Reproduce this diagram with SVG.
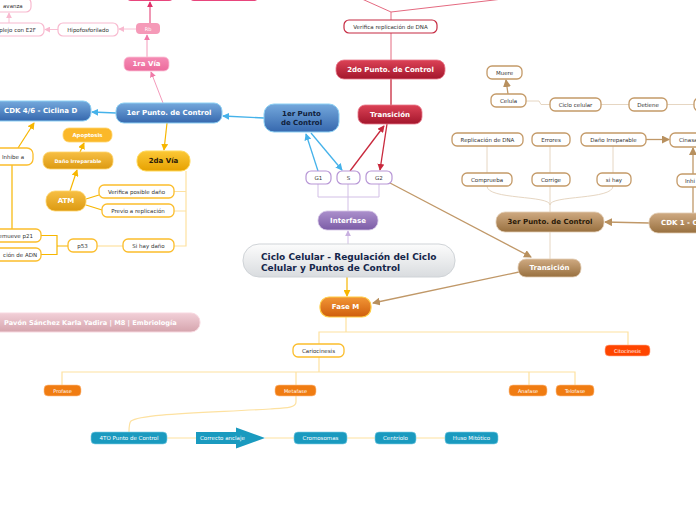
<svg xmlns="http://www.w3.org/2000/svg" width="696" height="520" viewBox="0 0 696 520">
<style>
text{font-family:"DejaVu Sans","Liberation Sans",sans-serif;text-anchor:middle;dominant-baseline:central}
.t{font-size:5.5px;fill:#333}
.h{font-size:7px;font-weight:bold;fill:#fff}
.hd{font-size:7px;font-weight:bold;fill:#2a1a08}
.s{text-anchor:start}
.e{text-anchor:end}
.ts{font-size:5px;fill:#fff}
.ln{fill:none;stroke-width:1}
.wp{fill:#fff;stroke:#f8b9cf;stroke-width:1.2}
.wr{fill:#fff;stroke:#c62a42;stroke-width:1.2}
.wb{fill:#fff;stroke:#c49a68;stroke-width:1.3}
.wo{fill:#fff;stroke:#fbbd2b;stroke-width:1.3}
.wv{fill:#fff;stroke:#b796d6;stroke-width:1.2}
.teal{fill:#1a9abf;stroke:#7fd0e6;stroke-width:.6}
.or{fill:#f07c12;stroke:#ffc089;stroke-width:.6}
.pk{stroke:#f49abb}
.lpk{stroke:#f8c0d4}
.dpk{stroke:#e0306a}
.bl{stroke:#45b2ea;stroke-width:1.3}
.rd{stroke:#c8283c;stroke-width:1.3}
.lrd{stroke:#e46a80}
.pu{stroke:#d2bfe6}
.br{stroke:#c09868;stroke-width:1.3}
.lbr{stroke:#e6d6c2}
.og{stroke:#f7b600;stroke-width:1.2}
.ly{stroke:#fde1a0;stroke-width:1.2}
</style>
<defs>
<linearGradient id="gBlue" x1="0" y1="0" x2="0" y2="1"><stop offset="0" stop-color="#74a8dc"/><stop offset="1" stop-color="#3668ae"/></linearGradient>
<linearGradient id="gRed" x1="0" y1="0" x2="0" y2="1"><stop offset="0" stop-color="#dc4256"/><stop offset="1" stop-color="#a3162c"/></linearGradient>
<linearGradient id="gPink" x1="0" y1="0" x2="0" y2="1"><stop offset="0" stop-color="#f58bb4"/><stop offset="1" stop-color="#ec6a9c"/></linearGradient>
<linearGradient id="gPur" x1="0" y1="0" x2="0" y2="1"><stop offset="0" stop-color="#ab90cc"/><stop offset="1" stop-color="#7c5ca6"/></linearGradient>
<linearGradient id="gMain" x1="0" y1="0" x2="0" y2="1"><stop offset="0" stop-color="#fcfcfc"/><stop offset="1" stop-color="#d9dcdf"/></linearGradient>
<linearGradient id="gFase" x1="0" y1="0" x2="0" y2="1"><stop offset="0" stop-color="#f29636"/><stop offset="1" stop-color="#cf5e0c"/></linearGradient>
<linearGradient id="gBrown" x1="0" y1="0" x2="0" y2="1"><stop offset="0" stop-color="#cfaa82"/><stop offset="1" stop-color="#98703f"/></linearGradient>
<linearGradient id="gYel" x1="0" y1="0" x2="0" y2="1"><stop offset="0" stop-color="#fcc836"/><stop offset="1" stop-color="#e6a100"/></linearGradient>
<linearGradient id="gAtm" x1="0" y1="0" x2="0" y2="1"><stop offset="0" stop-color="#f7bf44"/><stop offset="1" stop-color="#dc9a12"/></linearGradient>
<linearGradient id="gBan" x1="0" y1="0" x2="0" y2="1"><stop offset="0" stop-color="#f2d0d8"/><stop offset="1" stop-color="#d5a4ad"/></linearGradient>
<marker id="aBl" viewBox="0 0 8 8" refX="7" refY="4" markerWidth="7" markerHeight="7" markerUnits="userSpaceOnUse" orient="auto"><path d="M0,0L8,4L0,8z" fill="#45b2ea"/></marker>
<marker id="aRd" viewBox="0 0 8 8" refX="7" refY="4" markerWidth="7" markerHeight="7" markerUnits="userSpaceOnUse" orient="auto"><path d="M0,0L8,4L0,8z" fill="#c8283c"/></marker>
<marker id="aPk" viewBox="0 0 8 8" refX="7" refY="4" markerWidth="6" markerHeight="6" markerUnits="userSpaceOnUse" orient="auto"><path d="M0,0L8,4L0,8z" fill="#f07aa8"/></marker>
<marker id="aLpk" viewBox="0 0 8 8" refX="7" refY="4" markerWidth="6" markerHeight="6" markerUnits="userSpaceOnUse" orient="auto"><path d="M0,0L8,4L0,8z" fill="#f8b9cf"/></marker>
<marker id="aDpk" viewBox="0 0 8 8" refX="7" refY="4" markerWidth="6" markerHeight="6" markerUnits="userSpaceOnUse" orient="auto"><path d="M0,0L8,4L0,8z" fill="#e0306a"/></marker>
<marker id="aPu" viewBox="0 0 8 8" refX="7" refY="4" markerWidth="6" markerHeight="6" markerUnits="userSpaceOnUse" orient="auto"><path d="M0,0L8,4L0,8z" fill="#c8b0e0"/></marker>
<marker id="aBr" viewBox="0 0 8 8" refX="7" refY="4" markerWidth="8" markerHeight="8" markerUnits="userSpaceOnUse" orient="auto"><path d="M0,0L8,4L0,8z" fill="#b8905e"/></marker>
<marker id="aOg" viewBox="0 0 8 8" refX="7" refY="4" markerWidth="7" markerHeight="7" markerUnits="userSpaceOnUse" orient="auto"><path d="M0,0L8,4L0,8z" fill="#f7b600"/></marker>
</defs>

<g id="connectors">
<!-- pink branch -->
<path class="ln lpk" d="M9,23V13" marker-end="url(#aLpk)"/>
<path class="ln lpk" d="M58,29.5H45" marker-end="url(#aLpk)"/>
<path class="ln lpk" d="M136,29H119" marker-end="url(#aLpk)"/>
<path class="ln dpk" d="M150,23V2" marker-end="url(#aDpk)"/>
<path class="ln pk" d="M147,57V35" marker-end="url(#aPk)"/>
<path class="ln pk" d="M163,103L151,72" marker-end="url(#aPk)"/>
<!-- blue -->
<path class="ln bl" d="M264,118L223,116" marker-end="url(#aBl)"/>
<path class="ln bl" d="M116,113L92,112" marker-end="url(#aBl)"/>
<path class="ln bl" d="M318,171L306,134" marker-end="url(#aBl)"/>
<path class="ln bl" d="M311,133L342,170" marker-end="url(#aBl)"/>
<!-- red -->
<path class="ln lrd" d="M391,20V12L362,-1M391,12L520,-3"/>
<path class="ln lrd" d="M391,33V60"/>
<path class="ln rd" d="M391,79V105"/>
<path class="ln rd" d="M350,171L384,126" marker-end="url(#aRd)"/>
<path class="ln rd" d="M387,124L380,170" marker-end="url(#aRd)"/>
<!-- purple -->
<path class="ln pu" d="M318,184V197H379V184M348,184V211"/>
<path class="ln pu" d="M348,244V231" marker-end="url(#aPu)"/>
<!-- brown -->
<path class="ln br" d="M390,183L531,257" marker-end="url(#aBr)"/>
<path class="ln br" d="M519,272L373,303" marker-end="url(#aBr)"/>
<path class="ln lbr" d="M550,232V259"/>
<path class="ln br" d="M649,223L605,222" marker-end="url(#aBr)"/>
<path class="ln br" d="M693,213V148" marker-end="url(#aBr)"/>
<path class="ln br" d="M646,139.5H669" marker-end="url(#aBr)"/>
<path class="ln lbr" d="M487,146V173M550,146V173M613,146V173"/>
<path class="ln lbr" d="M487,186C487,200 550,195 550,205M613,186C613,200 550,195 550,205M550,186V212"/>
<path class="ln br" d="M508,94L506,80" marker-end="url(#aBr)"/>
<path class="ln lbr" d="M526,101H539L541,104.5H550M601,104.5H629M667,104.5H694"/>
<!-- orange / yellow -->
<path class="ln og" d="M167,123L164,150" marker-end="url(#aOg)"/>
<path class="ln ly" d="M186,171V246H174M186,191.5H174M186,211H174"/>
<path class="ln ly" d="M123,246H97"/>
<path class="ln og" d="M68,246H57M57,235V255M57,235.5H41M57,254.5H41"/>
<path class="ln og" d="M12,229V165"/>
<path class="ln og" d="M18,148L34,123" marker-end="url(#aOg)"/>
<path class="ln og" d="M70,191L77,170" marker-end="url(#aOg)"/>
<path class="ln og" d="M80,152L84,143" marker-end="url(#aOg)"/>
<path class="ln og" d="M86,199L99,195M86,205L102,210"/>
<path class="ln og" d="M347,277V296" marker-end="url(#aOg)"/>
<path class="ln ly" d="M346,317V332M319,344V332H628V345"/>
<path class="ln ly" d="M319,357V372M62,385V372H575V385M296,372V385M529,372V385"/>
<path class="ln ly" d="M296,396V402C296,408 285,408 270,409C200,413 140,414 131,421C129,423 129,426 129,432"/>
<path class="ln ly" d="M167,438H196M265,438H294M347,438H375M416,438H445"/>
</g>

<g id="n-top1"><rect x="127" y="-12" width="46" height="13" rx="4" fill="#e8457c"/></g>
<g id="n-top2"><rect x="190" y="-12" width="68" height="13" rx="4" fill="#e8457c"/></g>
<g id="n-avanza"><rect class="wp" x="-20" y="-2" width="51" height="14" rx="5"/><text class="t s" x="3" y="6">avanza</text></g>
<g id="n-complejo"><rect class="wp" x="-30" y="23" width="74" height="13" rx="5"/><text class="t e" x="36" y="29.5">plejo con E2F</text></g>
<g id="n-hipo"><rect class="wp" x="58" y="23" width="60" height="13" rx="5"/><text class="t" x="88" y="29.5">Hipofosforilado</text></g>
<g id="n-rb"><rect x="136" y="23" width="24" height="11" rx="4" fill="#f59ab8"/><text class="ts" x="148" y="28.5">Rb</text></g>
<g id="n-1ravia"><rect x="124" y="57" width="45" height="14" rx="5" fill="url(#gPink)" stroke="#fbc4d8" stroke-width=".8"/><text class="h" x="146.5" y="64">1ra Vía</text></g>
<g id="n-1erpc"><rect x="116" y="103" width="106" height="20" rx="8" fill="url(#gBlue)" stroke="#8cd0f4" stroke-width="1"/><text class="h" x="169" y="113">1er Punto. de Control</text></g>
<g id="n-cdk46"><rect x="-20" y="101" width="111" height="20" rx="8" fill="url(#gBlue)" stroke="#8cd0f4" stroke-width="1"/><text class="h s" x="4" y="111">CDK 4/6 - Ciclina D</text></g>
<g id="n-1erpunto"><rect x="264" y="104" width="75" height="28" rx="10" fill="url(#gBlue)" stroke="#8cd0f4" stroke-width="1"/><text class="hd" x="301.5" y="114" style="fill:#10203a">1er Punto</text><text class="hd" x="301.5" y="123" style="fill:#10203a">de Control</text></g>
<g id="n-verdna"><rect class="wr" x="344" y="20" width="93" height="13" rx="5"/><text class="t" x="390.5" y="26.5">Verifica replicación de DNA</text></g>
<g id="n-2dopc"><rect x="336" y="60" width="109" height="19" rx="8" fill="url(#gRed)" stroke="#e8788a" stroke-width=".8"/><text class="h" x="390.5" y="69.5">2do Punto. de Control</text></g>
<g id="n-trans-r"><rect x="358" y="105" width="64" height="19" rx="7" fill="url(#gRed)" stroke="#e8788a" stroke-width=".8"/><text class="h" x="390" y="114.5">Transición</text></g>
<g id="n-g1"><rect class="wv" x="306" y="171" width="25" height="13" rx="5"/><text class="t" x="318.5" y="177.5">G1</text></g>
<g id="n-s"><rect class="wv" x="337" y="171" width="23" height="13" rx="5"/><text class="t" x="348.5" y="177.5">S</text></g>
<g id="n-g2"><rect class="wv" x="366" y="171" width="26" height="13" rx="5"/><text class="t" x="379" y="177.5">G2</text></g>
<g id="n-interfase"><rect x="318" y="211" width="60" height="19" rx="9" fill="url(#gPur)" stroke="#d4c4e6" stroke-width=".8"/><text class="h" x="348" y="220.5">Interfase</text></g>
<g id="n-main"><rect x="243" y="244" width="212" height="33" rx="16" fill="url(#gMain)" stroke="#cfd3d7" stroke-width="1"/><text class="s" x="261" y="256.5" style="font-size:9px;font-weight:bold;fill:#15264a">Ciclo Celular - Regulación del Ciclo</text><text class="s" x="261" y="267.5" style="font-size:9px;font-weight:bold;fill:#15264a">Celular y Puntos de Control</text></g>
<g id="n-fasem"><rect x="320" y="297" width="51" height="20" rx="9" fill="url(#gFase)" stroke="#ffcc44" stroke-width="1.2"/><text class="h" x="345.5" y="307">Fase M</text></g>
<g id="n-banner"><rect x="-20" y="313" width="220" height="19" rx="9" fill="url(#gBan)" stroke="#f8d8e0" stroke-width="1"/><text class="h s" x="4" y="322.5" style="font-size:6.6px">Pavón Sánchez Karla Yadira | M8 | Embriología</text></g>
<g id="n-cario"><rect class="wo" x="293" y="344" width="51" height="13" rx="5"/><text class="t" x="318.5" y="350.5">Cariocinesis</text></g>
<g id="n-cito"><rect x="605" y="345" width="45" height="11" rx="4" fill="#ff4500" stroke="#ffb090" stroke-width=".6"/><text class="ts" x="627.5" y="350.5">Citocinesis</text></g>
<g id="n-profase"><rect class="or" x="44" y="385" width="37" height="11" rx="4"/><text class="ts" x="62.5" y="390.5">Profase</text></g>
<g id="n-metafase"><rect class="or" x="275" y="385" width="41" height="11" rx="4"/><text class="ts" x="295.5" y="390.5">Metafase</text></g>
<g id="n-anafase"><rect class="or" x="509" y="385" width="38" height="11" rx="4"/><text class="ts" x="528" y="390.5">Anafase</text></g>
<g id="n-telofase"><rect class="or" x="556" y="385" width="38" height="11" rx="4"/><text class="ts" x="575" y="390.5">Telofase</text></g>
<g id="n-4to"><rect class="teal" x="91" y="432" width="76" height="12" rx="4"/><text class="ts" x="129" y="438" style="font-size:5.5px">4TO Punto de Control</text></g>
<g id="n-anclaje"><path d="M196,432H236V427.5L265,438L236,448.5V444H196Z" fill="#1a9abf"/><text class="ts s" x="200" y="438" style="font-size:5.5px">Correcto anclaje</text></g>
<g id="n-cromo"><rect class="teal" x="294" y="432" width="53" height="12" rx="4"/><text class="ts" x="320.5" y="438" style="font-size:5.5px">Cromosomas</text></g>
<g id="n-centriolo"><rect class="teal" x="375" y="432" width="41" height="12" rx="4"/><text class="ts" x="395.5" y="438" style="font-size:5.5px">Centriolo</text></g>
<g id="n-huso"><rect class="teal" x="445" y="432" width="53" height="12" rx="4"/><text class="ts" x="471.5" y="438" style="font-size:5.5px">Huso Mitótico</text></g>

<g id="n-muere"><rect class="wb" x="487" y="66" width="35" height="13" rx="5"/><text class="t" x="504.5" y="72.5">Muere</text></g>
<g id="n-celula"><rect class="wb" x="491" y="94" width="35" height="13" rx="5"/><text class="t" x="508.5" y="100.5">Celula</text></g>
<g id="n-ciclo"><rect class="wb" x="550" y="98" width="51" height="13" rx="5"/><text class="t" x="575.5" y="104.5">Ciclo celular</text></g>
<g id="n-detiene"><rect class="wb" x="629" y="98" width="38" height="13" rx="5"/><text class="t" x="648" y="104.5">Detiene</text></g>
<g id="n-right"><rect class="wb" x="694" y="98" width="20" height="13" rx="5"/></g>
<g id="n-repdna"><rect class="wb" x="452" y="133" width="71" height="13" rx="5"/><text class="t" x="487.5" y="139.5">Replicación de DNA</text></g>
<g id="n-errores"><rect class="wb" x="532" y="133" width="38" height="13" rx="5"/><text class="t" x="551" y="139.5">Errores</text></g>
<g id="n-dano-b"><rect class="wb" x="581" y="133" width="65" height="13" rx="5"/><text class="t" x="613.5" y="139.5">Daño Irreparable</text></g>
<g id="n-cinasa"><rect class="wb" x="670" y="133" width="40" height="14" rx="5"/><text class="t s" x="679" y="140">Cinasa</text></g>
<g id="n-comprueba"><rect class="wb" x="462" y="173" width="50" height="13" rx="5"/><text class="t" x="487" y="179.5">Comprueba</text></g>
<g id="n-corrige"><rect class="wb" x="532" y="173" width="38" height="13" rx="5"/><text class="t" x="551" y="179.5">Corrige</text></g>
<g id="n-sihay"><rect class="wb" x="597" y="173" width="34" height="13" rx="5"/><text class="t" x="614" y="179.5">si hay</text></g>
<g id="n-inhi"><rect class="wb" x="677" y="174" width="30" height="13" rx="5"/><text class="t s" x="685" y="180.5">Inhi</text></g>
<g id="n-3erpc"><rect x="496" y="212" width="108" height="20" rx="9" fill="url(#gBrown)" stroke="#e2cdb4" stroke-width=".8"/><text class="hd" x="550" y="222">3er Punto. de Control</text></g>
<g id="n-cdk1"><rect x="649" y="213" width="80" height="20" rx="9" fill="url(#gBrown)" stroke="#e2cdb4" stroke-width=".8"/><text class="h s" x="661" y="223">CDK 1 - C</text></g>
<g id="n-trans-b"><rect x="518" y="259" width="63" height="18" rx="8" fill="url(#gBrown)" stroke="#e2cdb4" stroke-width=".8"/><text class="h" x="549.5" y="268">Transición</text></g>

<g id="n-2davia"><rect x="137" y="151" width="53" height="20" rx="9" fill="url(#gYel)" stroke="#ffd95a" stroke-width="1"/><text class="hd" x="163.5" y="161">2da Vía</text></g>
<g id="n-apoptosis"><rect x="63" y="128" width="49" height="14" rx="6" fill="#fbb82a" stroke="#ffd46a" stroke-width=".8"/><text class="h" x="87.5" y="135" style="font-size:5.4px">Apoptosis</text></g>
<g id="n-dano-o"><rect x="43" y="152" width="70" height="17" rx="7" fill="url(#gAtm)" stroke="#ffd46a" stroke-width=".8"/><text class="h" x="78" y="160.5" style="font-size:4.9px">Daño Irreparable</text></g>
<g id="n-atm"><rect x="46" y="191" width="40" height="20" rx="9" fill="url(#gAtm)" stroke="#ffd46a" stroke-width=".8"/><text class="h" x="66" y="201">ATM</text></g>
<g id="n-verpos"><rect class="wo" x="99" y="185" width="75" height="13" rx="5"/><text class="t" x="136.5" y="191.5">Verifica posible daño</text></g>
<g id="n-previo"><rect class="wo" x="102" y="204" width="72" height="13" rx="5"/><text class="t" x="138" y="210.5">Previo a replicación</text></g>
<g id="n-sihaydano"><rect class="wo" x="123" y="239" width="51" height="13" rx="5"/><text class="t" x="148.5" y="245.5">Si hay daño</text></g>
<g id="n-p53"><rect class="wo" x="68" y="239" width="29" height="13" rx="5"/><text class="t" x="82.5" y="245.5">p53</text></g>
<g id="n-inhibe"><rect class="wo" x="-15" y="148" width="48" height="17" rx="6"/><text class="t s" x="2" y="156.5">Inhibe a</text></g>
<g id="n-p21"><rect class="wo" x="-20" y="229" width="61" height="13" rx="5"/><text class="t e" x="33" y="235.5">emueve p21</text></g>
<g id="n-adn"><rect class="wo" x="-20" y="248" width="61" height="13" rx="5"/><text class="t e" x="37" y="254.5">ción de ADN</text></g>
</svg>
